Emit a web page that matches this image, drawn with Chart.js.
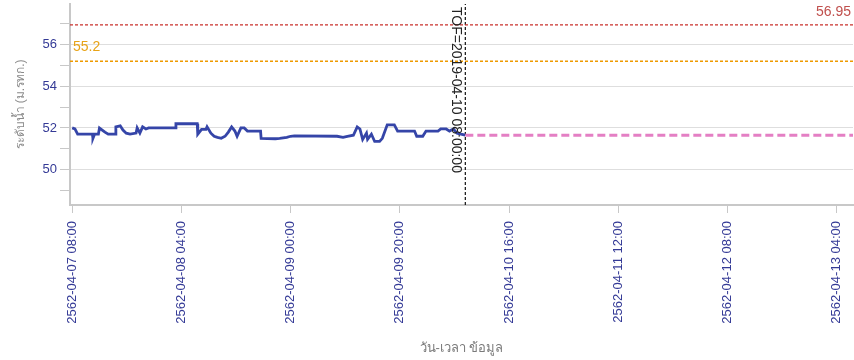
<!DOCTYPE html>
<html>
<head>
<meta charset="utf-8">
<script src="https://cdn.jsdelivr.net/npm/chart.js@4/dist/chart.umd.min.js"></script>
<style>
  html, body { margin: 0; padding: 0; background: #fff; overflow: hidden; }
  #wrap { width: 854px; height: 360px; }
  canvas { display: block; }
</style>
</head>
<body>
<div id="wrap"><canvas id="graficoNivel" width="854" height="360"></canvas></div>
<script>
// horas contadas a partir de 2562-04-07 08:00
const obsHoras = [0, 0.5, 1, 3.7, 3.8, 4.1, 4.8, 5.0, 5.5, 6.0, 6.6, 7.9, 8.0, 8.8, 9.3, 9.9, 10.6, 11.7, 11.9, 12.4, 12.9, 13.5, 14, 16, 18.9,
  19.0, 22.9, 23.0, 23.7, 24.5, 24.7, 25.4, 26.0, 26.6, 27.3, 28.0, 28.6, 29.2, 29.8, 30.2, 30.9, 31.5, 32.1, 34.5, 34.6, 37.2, 38.0, 39.3,
  40.0, 40.7, 48.5, 49.6, 50.4, 51.5, 52.2, 52.7, 53.2, 53.9, 54.1, 54.8, 55.4, 56.3, 56.8, 57.7, 59.0, 59.6, 62.2, 62.7, 63.1, 64.2, 64.8,
  67.0, 67.5, 68.5, 69.1, 69.8, 70.5, 71.2, 72];
const obsNivel = [52.0, 51.95, 51.7, 51.7, 51.5, 51.7, 51.7, 52.0, 51.9, 51.8, 51.7, 51.7, 52.05, 52.1, 51.9, 51.75, 51.7, 51.75, 52.0, 51.75, 52.05, 51.95, 52.0, 52.0, 52.0,
  52.2, 52.2, 51.7, 51.93, 51.93, 52.05, 51.75, 51.6, 51.55, 51.5, 51.6, 51.8, 52.05, 51.85, 51.6, 52.0, 52.0, 51.85, 51.85, 51.5, 51.48, 51.5, 51.55,
  51.6, 51.62, 51.6, 51.55, 51.6, 51.65, 52.05, 51.95, 51.45, 51.75, 51.45, 51.7, 51.35, 51.35, 51.5, 52.15, 52.15, 51.85, 51.85, 51.85, 51.6, 51.6, 51.85,
  51.85, 51.95, 51.95, 51.85, 51.95, 51.75, 51.7, 51.65];

const prevHoras = [72, 143];
const prevNivel = [51.65, 51.65];

const nivelCritico = 56.95;
const nivelAlerta = 55.2;
const horaTOF = 72;
const textoTOF = 'TOF=2019-04-10 08:00:00';

const horaMin = -0.4;
const horaMax = 143;
const nivelMin = 48.3;
const nivelMax = 57.95;

const tickHoras = [0, 20, 40, 60, 80, 100, 120, 140];
const tickTextos = ['2562-04-07 08:00', '2562-04-08 04:00', '2562-04-09 00:00', '2562-04-09 20:00',
  '2562-04-10 16:00', '2562-04-11 12:00', '2562-04-12 08:00', '2562-04-13 04:00'];
const tickNiveis = [49, 50, 51, 52, 53, 54, 55, 56, 57];

const fonte = '"Liberation Sans", Tahoma, sans-serif';
const azulEixo = '#343a96';

const pontos = (xs, ys) => xs.map((x, i) => ({ x: x, y: ys[i] }));

const rotulos = {
  id: 'rotulos',
  afterDatasetsDraw(chart) {
    const { ctx, chartArea, scales: { x, y } } = chart;
    ctx.save();
    ctx.font = '14px ' + fonte;
    ctx.textBaseline = 'bottom';
    ctx.textAlign = 'right';
    ctx.fillStyle = '#c0504d';
    ctx.fillText(String(nivelCritico), chartArea.right - 2, y.getPixelForValue(nivelCritico) - 6);
    ctx.textAlign = 'left';
    ctx.fillStyle = '#e8a317';
    ctx.fillText(String(nivelAlerta), chartArea.left + 3, y.getPixelForValue(nivelAlerta) - 7);
    // texto vertical do TOF
    ctx.translate(x.getPixelForValue(horaTOF) - 2, chartArea.top + 3);
    ctx.rotate(Math.PI / 2);
    ctx.textAlign = 'left';
    ctx.textBaseline = 'top';
    ctx.fillStyle = '#222';
    ctx.fillText(textoTOF, 0, 0);
    ctx.restore();
  }
};

const ctx = document.getElementById('graficoNivel').getContext('2d');
const grafico = new Chart(ctx, {
  type: 'line',
  data: {
    datasets: [
      { data: pontos([horaMin, horaMax], [nivelCritico, nivelCritico]), borderColor: '#c9302c', borderWidth: 1.3, borderDash: [3, 2], pointRadius: 0 },
      { data: pontos([horaMin, horaMax], [nivelAlerta, nivelAlerta]), borderColor: '#ee9a00', borderWidth: 1.5, borderDash: [3, 2], pointRadius: 0 },
      { data: pontos(prevHoras, prevNivel), borderColor: '#e47fc4', borderWidth: 3, borderDash: [8, 4], pointRadius: 0 },
      { data: pontos(obsHoras, obsNivel), borderColor: '#3545a8', borderWidth: 2.8, pointRadius: 0, tension: 0 },
      { data: pontos([horaTOF, horaTOF], [nivelMin, nivelMax]), borderColor: '#111', borderWidth: 1.2, borderDash: [3, 2], pointRadius: 0 }
    ]
  },
  options: {
    responsive: false,
    animation: false,
    layout: { padding: { top: 4, right: 1, left: 0, bottom: 0 } },
    plugins: { legend: { display: false }, tooltip: { enabled: false } },
    scales: {
      x: {
        type: 'linear',
        min: horaMin,
        max: horaMax,
        afterBuildTicks: s => { s.ticks = tickHoras.map(v => ({ value: v })); },
        afterFit: s => { s.height = 155; s.paddingLeft = 0; s.paddingRight = 0; },
        border: { color: '#c8c8c8', width: 2 },
        grid: { drawOnChartArea: false, tickColor: '#c8c8c8', tickLength: 8 },
        ticks: {
          autoSkip: false, maxRotation: 90, minRotation: 90, padding: 8,
          color: azulEixo, font: { family: fonte, size: 13 },
          callback: (v, i) => tickTextos[i]
        },
        title: { display: true, text: 'วัน-เวลา ข้อมูล', color: '#7a7a7a', font: { family: fonte, size: 13 }, padding: { top: 0, bottom: 4 } }
      },
      y: {
        min: nivelMin,
        max: nivelMax,
        afterBuildTicks: s => { s.ticks = tickNiveis.map(v => ({ value: v })); },
        afterFit: s => { s.width = 70; s.paddingTop = 0; s.paddingBottom = 0; },
        border: { color: '#c8c8c8', width: 2 },
        grid: {
          color: c => (c.tick && c.tick.value % 2 === 0) ? '#dedede' : 'rgba(0,0,0,0)',
          tickColor: '#c8c8c8', tickLength: 10
        },
        ticks: {
          padding: 3, color: azulEixo, font: { family: fonte, size: 13 },
          callback: v => (v % 2 === 0 ? v : '')
        },
        title: { display: true, text: 'ระดับน้ำ (ม.รทก.)', color: '#8a8a8a', font: { family: fonte, size: 12 }, padding: { top: 13, bottom: 0 } }
      }
    }
  },
  plugins: [rotulos]
});
</script>
</body>
</html>
